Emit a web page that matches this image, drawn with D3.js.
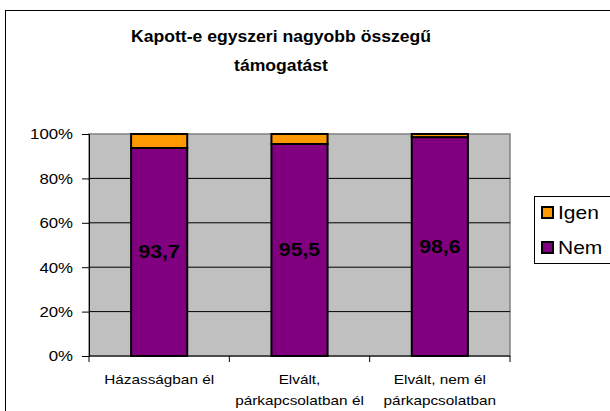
<!DOCTYPE html>
<html lang="en">
<head>
    <meta charset="UTF-8">
    <title>Kapott-e egyszeri nagyobb összegű támogatást</title>
    <script src="https://d3js.org/d3.v7.min.js"></script>
    <style>
        body { margin: 0; background: #fff; }
        text { font-family: Arial, "Liberation Sans", sans-serif; }
    </style>
</head>
<body>
<svg id="chart" width="610" height="411"></svg>
<script>
    // data
    const categories = [["Házasságban él"], ["Elvált,", "párkapcsolatban él"], ["Elvált, nem él", "párkapcsolatban"]];
    const catKeys = ["hazas", "elvalt_par", "elvalt_nem"];
    const nemValues = [93.7, 95.5, 98.6];
    const igenValues = [6.3, 4.5, 1.4];
    const yTicks = [0, 20, 40, 60, 80, 100];
    const seriesNames = ["Igen", "Nem"];
    const seriesColors = { Igen: "#FF9900", Nem: "#800080" };

    // the original export is a bit wider than tall, so text gets a horizontal stretch
    function stretch(sel, sx) {
        sel.each(function () {
            const t = d3.select(this);
            const tx = +t.attr("x") || 0, ty = +t.attr("y") || 0;
            t.attr("transform", `translate(${tx},${ty}) scale(${sx},1) translate(${-tx},${-ty})`);
        });
    }

    const svg = d3.select("#chart");

    // outer chart border (runs off the right/bottom edge)
    svg.append("rect")
        .attr("x", 5.5).attr("y", 10.5)
        .attr("width", 620).attr("height", 420)
        .attr("fill", "#fff").attr("stroke", "#000").attr("stroke-width", 1);

    // plot area
    const plotLeft = 89, plotRight = 510, plotTop = 134, plotBottom = 356;

    const x = d3.scaleBand()
        .domain(catKeys)
        .range([plotLeft, plotRight])
        .paddingInner(0.6)
        .paddingOuter(0.3);

    const y = d3.scaleLinear()
        .domain([0, 100])
        .range([plotBottom, plotTop]);

    svg.append("rect")
        .attr("x", plotLeft).attr("y", plotTop)
        .attr("width", plotRight - plotLeft).attr("height", plotBottom - plotTop)
        .attr("fill", "#C0C0C0")
        .attr("stroke", "#808080").attr("stroke-width", 1.5);

    // gridlines
    svg.append("g")
        .selectAll("line")
        .data(yTicks.filter(d => d > 0 && d < 100))
        .enter()
        .append("line")
        .attr("x1", plotLeft).attr("x2", plotRight)
        .attr("y1", d => y(d)).attr("y2", d => y(d))
        .attr("stroke", "#000").attr("stroke-width", 1);

    // stacked bars: Nem at bottom, Igen on top
    const rows = catKeys.map((k, i) => ({ key: k, nem: nemValues[i], igen: igenValues[i] }));

    svg.append("g")
        .selectAll("rect")
        .data(rows)
        .enter()
        .append("rect")
        .attr("x", d => x(d.key))
        .attr("y", d => y(d.nem))
        .attr("width", x.bandwidth())
        .attr("height", d => y(0) - y(d.nem))
        .attr("fill", seriesColors.Nem)
        .attr("stroke", "#000").attr("stroke-width", 2);

    svg.append("g")
        .selectAll("rect")
        .data(rows)
        .enter()
        .append("rect")
        .attr("x", d => x(d.key))
        .attr("y", d => y(d.nem + d.igen))
        .attr("width", x.bandwidth())
        .attr("height", d => y(d.nem) - y(d.nem + d.igen))
        .attr("fill", seriesColors.Igen)
        .attr("stroke", "#000").attr("stroke-width", 2);

    // value labels in the middle of the Nem segment
    const valueLabels = svg.append("g")
        .selectAll("text")
        .data(rows)
        .enter()
        .append("text")
        .attr("x", d => x(d.key) + x.bandwidth() / 2)
        .attr("y", d => (y(0) + y(d.nem)) / 2)
        .attr("dy", "0.36em")
        .attr("text-anchor", "middle")
        .attr("font-size", "18px")
        .attr("font-weight", "bold")
        .attr("fill", "#000")
        .text(d => d.nem.toFixed(1).replace(".", ","));
    stretch(valueLabels, 1.18);

    // y axis
    const yAxis = svg.append("g")
        .attr("transform", `translate(${plotLeft},0)`)
        .call(d3.axisLeft(y).tickValues(yTicks).tickFormat(d => d + "%").tickSize(7).tickPadding(9));
    yAxis.selectAll("text").attr("font-size", "15px").attr("fill", "#000").attr("font-family", "Arial, 'Liberation Sans', sans-serif");
    yAxis.selectAll("line").attr("stroke", "#000");
    yAxis.select(".domain").attr("stroke", "#000");
    stretch(yAxis.selectAll("text"), 1.12);

    // x axis line and category tick marks at band boundaries
    svg.append("line")
        .attr("x1", plotLeft).attr("x2", plotRight)
        .attr("y1", plotBottom).attr("y2", plotBottom)
        .attr("stroke", "#000").attr("stroke-width", 1);

    svg.append("g")
        .selectAll("line")
        .data(catKeys.map((k, i) => plotLeft + i * x.step()).concat([plotRight]))
        .enter()
        .append("line")
        .attr("x1", d => d).attr("x2", d => d)
        .attr("y1", plotBottom).attr("y2", plotBottom + 6)
        .attr("stroke", "#000");

    // category labels
    const catLabels = svg.append("g")
        .selectAll("text")
        .data(catKeys)
        .enter()
        .append("text")
        .attr("x", d => x(d) + x.bandwidth() / 2)
        .attr("y", 384)
        .attr("text-anchor", "middle")
        .attr("font-size", "13px")
        .attr("fill", "#000");
    catLabels.each(function (d, i) {
        const t = d3.select(this);
        categories[i].forEach((line, j) => {
            t.append("tspan")
                .attr("x", x(d) + x.bandwidth() / 2)
                .attr("dy", j === 0 ? 0 : 21)
                .text(line);
        });
    });
    stretch(catLabels, 1.18);

    // title
    const title = svg.append("text")
        .attr("x", 281)
        .attr("y", 42)
        .attr("text-anchor", "middle")
        .attr("font-size", "17px")
        .attr("font-weight", "bold")
        .attr("fill", "#000");
    title.append("tspan").attr("x", 281).text("Kapott-e egyszeri nagyobb összegű");
    title.append("tspan").attr("x", 281).attr("dy", 29).text("támogatást");
    stretch(title, 1.035);

    // legend
    const legend = svg.append("g").attr("transform", "translate(534,196)");
    legend.append("rect")
        .attr("x", 0.5).attr("y", 0.5)
        .attr("width", 90).attr("height", 67)
        .attr("fill", "#fff").attr("stroke", "#000").attr("stroke-width", 1);
    seriesNames.forEach((name, i) => {
        const g = legend.append("g").attr("transform", `translate(8,${11 + i * 35})`);
        g.append("rect")
            .attr("width", 11).attr("height", 11)
            .attr("fill", seriesColors[name])
            .attr("stroke", "#000").attr("stroke-width", 2);
        const lt = g.append("text")
            .attr("x", 16).attr("y", 12)
            .attr("font-size", "17.5px")
            .attr("fill", "#000")
            .text(name);
        stretch(lt, 1.2);
    });
</script>
</body>
</html>
